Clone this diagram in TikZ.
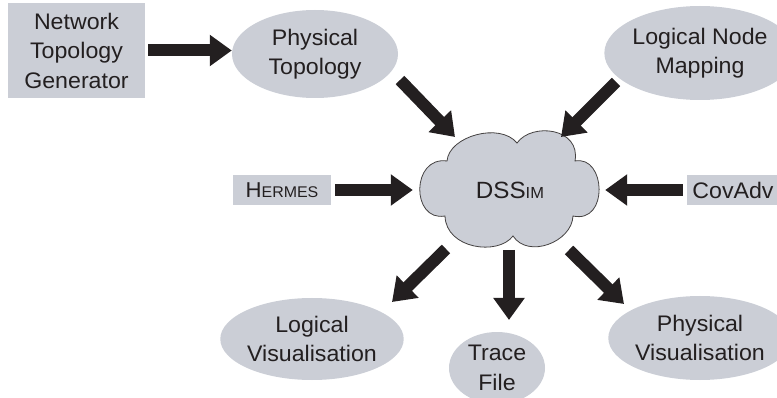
\documentclass[tikz,border=0pt]{standalone}
\usepackage{fontspec}
\setmainfont[FakeStretch=1.03]{Liberation Sans}
\usetikzlibrary{arrows.meta, shapes.geometric}
\definecolor{panel}{RGB}{203,206,214}
\definecolor{ink}{RGB}{35,31,32}
\begin{document}
\begin{tikzpicture}[x=1pt, y=-1pt,
  lbl/.style={text=ink, align=center, font=\fontsize{22.5}{29.5}\selectfont, inner sep=0pt},
  blob/.style={lbl, ellipse, fill=panel},
  box/.style={lbl, rectangle, fill=panel},
  bigarrow/.style={draw=ink, line width=12pt, -{Triangle[width=30pt,length=22pt]}},
]
\useasboundingbox (0,0) rectangle (777,398);

% inputs and outputs
\node[box, minimum width=137pt, minimum height=95pt] (gen) at (76.5,50.5) {Network\\Topology\\Generator};
\node[blob, minimum width=166pt, minimum height=88pt] (pt) at (315,54) {Physical\\Topology};
\node[blob, minimum width=154pt, minimum height=94pt] (lnm) at (700,53) {Logical Node\\Mapping};
\node[box, minimum width=98pt, minimum height=30pt] (hermes) at (282,190) {\fontsize{21.5}{24}\selectfont H\fontsize{15.5}{18}\selectfont ERMES};
\node[box, minimum width=92pt, minimum height=30pt] (cov) at (733,190) {CovAdv};
\node[blob, minimum width=160pt, minimum height=82pt] (lv) at (312,339) {Logical\\Visualisation};
\node[blob, minimum width=96pt, minimum height=72pt] (tf) at (497,368) {Trace\\File};
\node[blob, minimum width=156pt, minimum height=84pt] (pv) at (700,338) {Physical\\Visualisation};

% simulator cloud
\path[draw=ink!85, line width=0.8pt, fill=panel]
  (447,161) .. controls (449,136) and (500,122) .. (517,143)
  .. controls (532,122) and (581,128) .. (575,161)
  .. controls (606,155) and (609,224) .. (573,216)
  .. controls (572,242) and (528,259) .. (513,236)
  .. controls (498,256) and (446,249) .. (445,216)
  .. controls (411,222) and (411,156) .. (447,161) -- cycle;
\node[lbl, minimum width=184pt, minimum height=110pt] (sim) at (510,190)
  {\fontsize{23.5}{28}\selectfont DSS\fontsize{16}{18}\selectfont IM};

% arrow end points
\coordinate (pt-out) at (400,80);
\coordinate (sim-nw) at (455,137);
\coordinate (lnm-out) at (616,82);
\coordinate (sim-ne) at (561,137);
\coordinate (sim-sw) at (446,249);
\coordinate (lv-in) at (392,302);
\coordinate (sim-s) at (509,250);
\coordinate (tf-in) at (509,320);
\coordinate (sim-se) at (569,250);
\coordinate (pv-in) at (624,304);

% connectors
\draw[bigarrow, shorten <=3pt] (gen.east) -- (gen.east -| pt.west);
\draw[bigarrow] (pt-out) -- (sim-nw);
\draw[bigarrow] (lnm-out) -- (sim-ne);
\draw[bigarrow, shorten <=4pt, shorten >=5pt] (hermes.east) -- (sim.west);
\draw[bigarrow, shorten <=4pt, shorten >=3pt] (cov.west) -- (sim.east);
\draw[bigarrow] (sim-sw) -- (lv-in);
\draw[bigarrow] (sim-s) -- (tf-in);
\draw[bigarrow] (sim-se) -- (pv-in);
\end{tikzpicture}
\end{document}
